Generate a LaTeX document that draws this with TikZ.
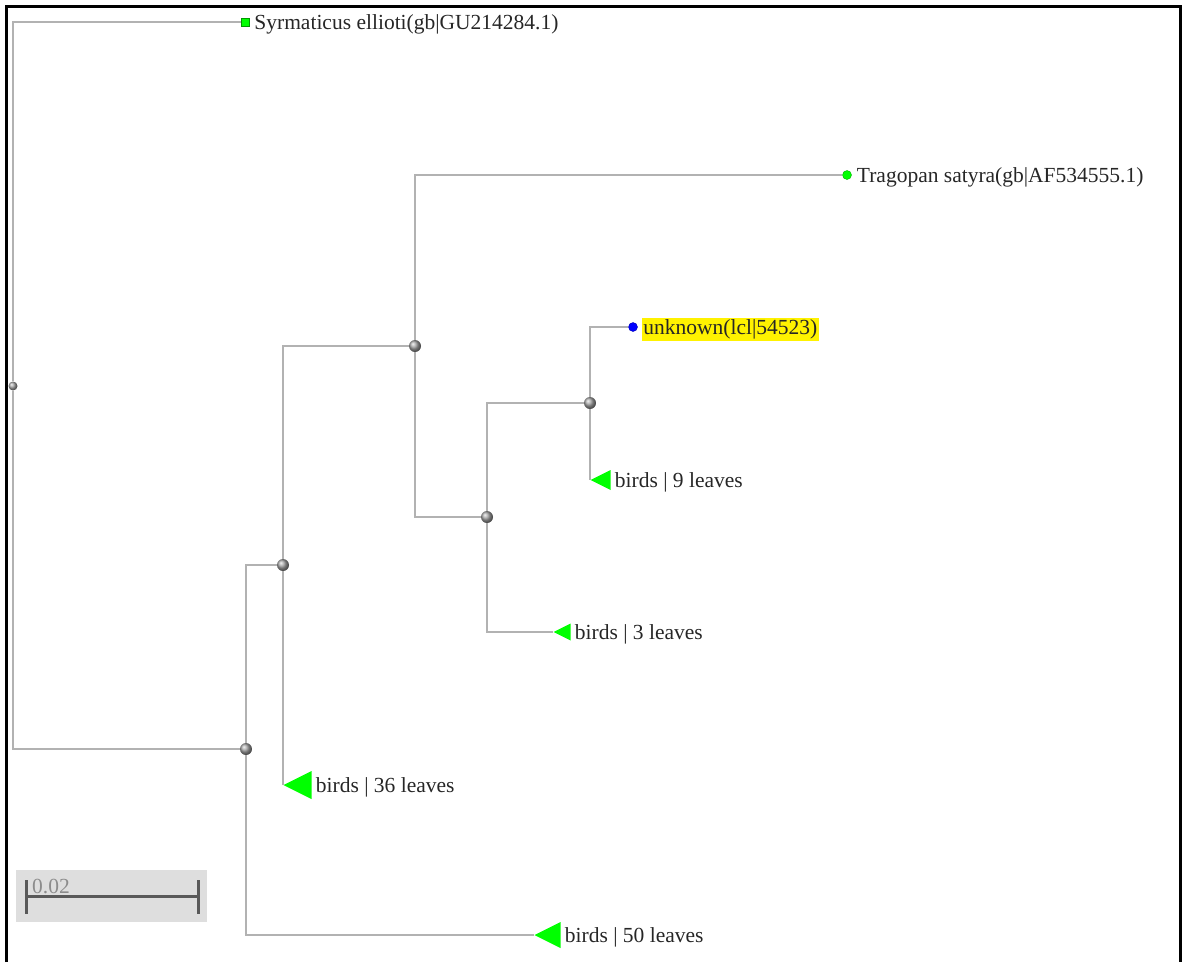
\documentclass[tikz,border=0pt]{standalone}
\usepackage{fontspec}
\setmainfont{Liberation Serif}
\usetikzlibrary{shapes.geometric,positioning}

\begin{document}
\begin{tikzpicture}
[
	x=1pt,y=-1pt,
	branch/.style={draw=black!30,line width=1.6pt},
	innernode/.style={circle,shading=ball,ball color=black!35,inner sep=0pt,minimum size=12pt},
	rootnode/.style={circle,shading=ball,ball color=black!35,inner sep=0pt,minimum size=9pt},
	leafpt/.style={circle,draw=#1!70!black,fill=#1,inner sep=0pt,minimum size=9pt},
	leafsq/.style={rectangle,fill=green,draw=green!60!black,inner sep=0pt,minimum size=8pt},
	clade/.style={isosceles triangle,isosceles triangle stretches,shape border rotate=180,fill=green,inner sep=0pt,minimum width=#1,minimum height=#1,anchor=apex},
	lbl/.style={anchor=west,inner sep=1pt,yshift=-2.5pt,text=black!85,font=\fontsize{21.5}{25}\selectfont}
]

	\useasboundingbox (0,0) rectangle (1182,962);

	% frame
	\draw[line width=3pt] (6,962) -- (6,6) -- (1180,6) -- (1180,962);

	% inner nodes
	\node[rootnode] (root) at (13,386) {};
	\node[innernode] (n1) at (246,749) {};
	\node[innernode] (n2) at (283,565) {};
	\node[innernode] (n3) at (415,346) {};
	\node[innernode] (n4) at (487,517) {};
	\node[innernode] (n5) at (590,403) {};

	% leaves
	\node[leafsq] (symr) at (245,22) {};
	\node[leafpt=green] (trag) at (847,175) {};
	\node[leafpt=blue] (unkn) at (633,327) {};
	\node[clade=20pt] (c9) at (590,480) {};
	\node[clade=17pt] (c3) at (553,632) {};
	\node[clade=28pt] (c36) at (283,785) {};
	\node[clade=26pt] (c50) at (534,935) {};

	\node[lbl,right=4pt of symr] {Syrmaticus ellioti(gb|GU214284.1)};
	\node[lbl,right=4pt of trag] {Tragopan satyra(gb|AF534555.1)};
	\node[lbl,fill=yellow,inner sep=1.5pt,right=4pt of unkn] {unknown(lcl|54523)};
	\node[lbl,right=3pt of c9.lower side] {birds | 9 leaves};
	\node[lbl,right=3pt of c3.lower side] {birds | 3 leaves};
	\node[lbl,right=3pt of c36.lower side] {birds | 36 leaves};
	\node[lbl,right=3pt of c50.lower side] {birds | 50 leaves};

	% branches
	\draw[branch] (root) |- (symr);
	\draw[branch] (root) |- (n1);
	\draw[branch] (n1) |- (n2);
	\draw[branch] (n1) |- (c50.apex);
	\draw[branch] (n2) |- (n3);
	\draw[branch] (n2) |- (c36.apex);
	\draw[branch] (n3) |- (trag);
	\draw[branch] (n3) |- (n4);
	\draw[branch] (n4) |- (n5);
	\draw[branch] (n4) |- (c3.apex);
	\draw[branch] (n5) |- (unkn);
	\draw[branch] (n5) |- (c9.apex);

	% scale bar
	\fill[black!13] (16,870) rectangle (207,922);
	\coordinate (sbl) at (26,896);
	\coordinate (sbr) at (198,896);
	\draw[black!65,line width=3pt] (sbl) -- (sbr);
	\draw[black!65,line width=3pt] (26,880) -- (26,914);
	\draw[black!65,line width=3pt] (198,880) -- (198,914);
	\node[lbl,text=black!45,yshift=0pt,anchor=base west] at (31,891) {0.02};

\end{tikzpicture}
\end{document}
